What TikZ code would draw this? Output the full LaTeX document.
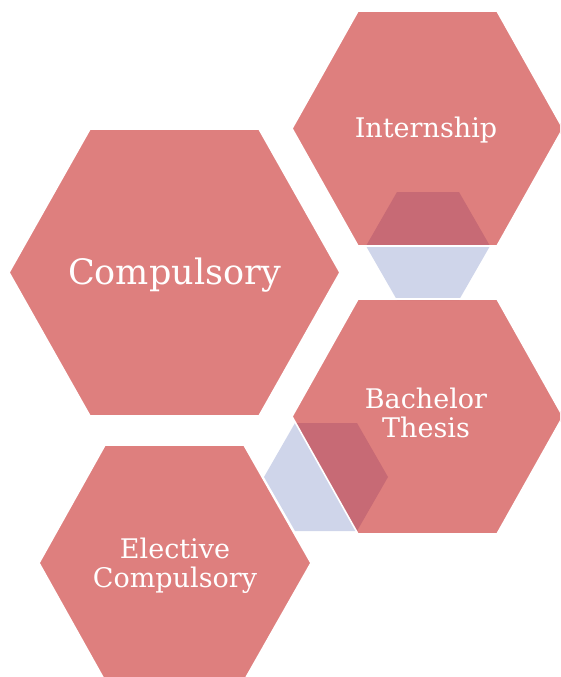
\documentclass[tikz,border=0pt]{standalone}
\usepackage{fontspec}
\setmainfont{DejaVu Serif}
\definecolor{hexred}{RGB}{222,127,126}
\definecolor{hexdark}{RGB}{199,106,117}
\definecolor{hexblue}{RGB}{207,213,234}
\tikzset{
  hexC/.style={insert path={(9,272.5) -- (90,129) -- (259,129) -- (340,272.5) -- (259,416) -- (90,416) -- cycle}},
  hexI/.style={insert path={(292,128.5) -- (358,11) -- (497,11) -- (563,128.5) -- (497,246) -- (358,246) -- cycle}},
  hexB/.style={insert path={(292,416.5) -- (358,299) -- (497,299) -- (563,416.5) -- (497,534) -- (358,534) -- cycle}},
  hexE/.style={insert path={(39,563) -- (105,445) -- (244,445) -- (311,563) -- (244,681) -- (105,681) -- cycle}},
  smA/.style={insert path={(366,246) -- (397,192) -- (459,192) -- (490,246) -- (459,300) -- (397,300) -- cycle}},
  smB/.style={insert path={(264,477) -- (295,423) -- (357,423) -- (388,477) -- (357,531) -- (295,531) -- cycle}},
  bigfill/.style={fill=hexred},
  outline/.style={draw=white, line width=1.6pt, line join=miter},
  label/.style={text=white, align=center, inner sep=0pt},
  biglabel/.style={label, font=\fontsize{35}{38}\selectfont},
  smalllabel/.style={label, font=\fontsize{27}{29}\selectfont}
}
\begin{document}
\begin{tikzpicture}[x=1pt,y=-1pt]
\useasboundingbox (0,0) rectangle (560,677);
\clip (0,0) rectangle (560,677);
% connector hexagons
\fill[hexblue, smA];
\fill[hexblue, smB];
% main hexagons
\fill[bigfill, hexC];
\fill[bigfill, hexI];
\fill[bigfill, hexB];
\fill[bigfill, hexE];
% overlaps
\begin{scope}
  \clip[hexI];
  \fill[hexdark, smA];
\end{scope}
\begin{scope}
  \clip[hexB];
  \fill[hexdark, smA];
  \fill[hexdark, smB];
\end{scope}
% outlines
\path[outline, hexC];
\path[outline, hexI];
\path[outline, hexB];
\path[outline, hexE];
% labels
\node[biglabel] (compulsory) at (174.5,275) {Compulsory};
\node[smalllabel] (internship) at (426,130) {Internship};
\node[smalllabel] (thesis) at (426,413) {Bachelor\\Thesis};
\node[smalllabel] (elective) at (175,565.5) {Elective\\Compulsory};
\end{tikzpicture}
\end{document}
